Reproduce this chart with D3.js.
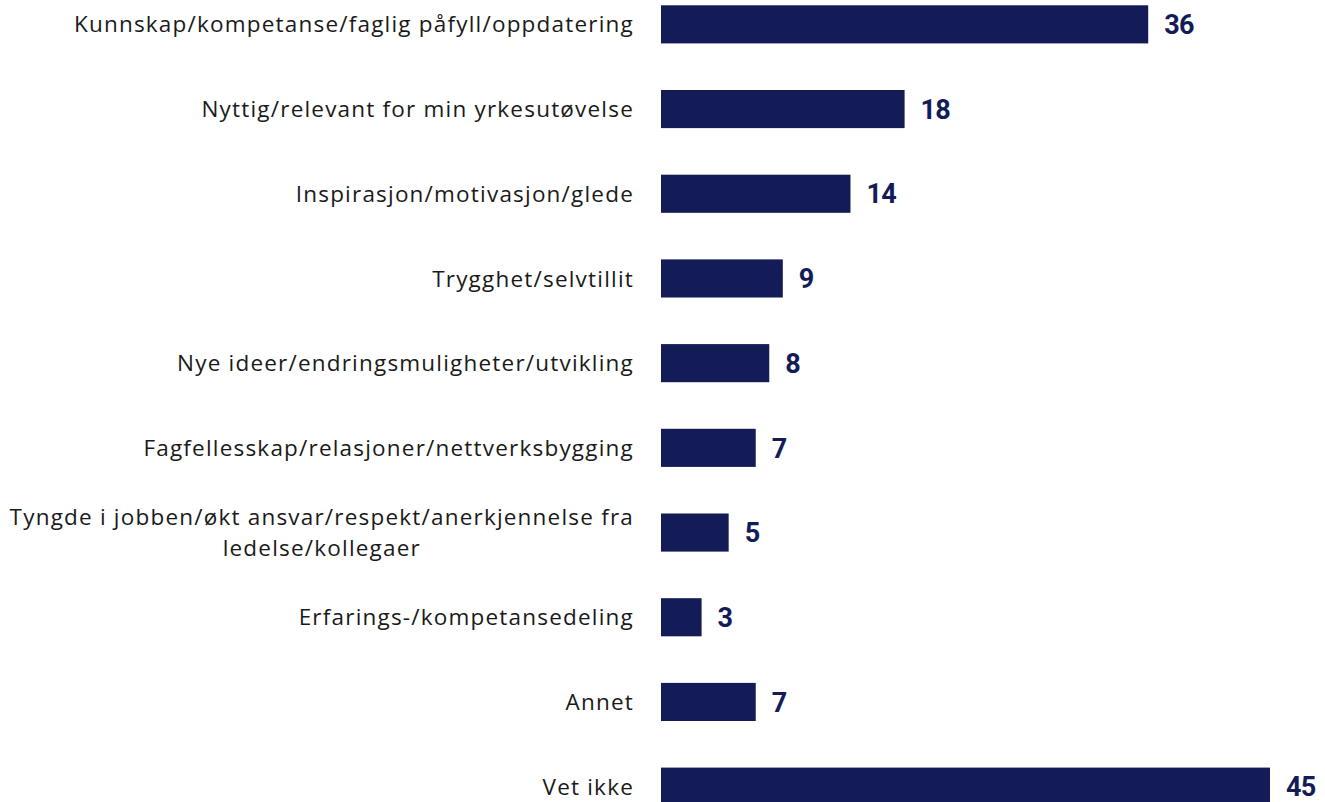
<!DOCTYPE html>
<html>
<head>
<meta charset="utf-8">
<script src="https://cdn.jsdelivr.net/npm/d3@7"></script>
<style>
  html, body { margin: 0; padding: 0; background: #fff; }
  svg { display: block; }
</style>
</head>
<body>
<svg id="chart" width="1325" height="802"></svg>
<script>
const categories = [
  ["Kunnskap/kompetanse/faglig påfyll/oppdatering"],
  ["Nyttig/relevant for min yrkesutøvelse"],
  ["Inspirasjon/motivasjon/glede"],
  ["Trygghet/selvtillit"],
  ["Nye ideer/endringsmuligheter/utvikling"],
  ["Fagfellesskap/relasjoner/nettverksbygging"],
  ["Tyngde i jobben/økt ansvar/respekt/anerkjennelse fra", "ledelse/kollegaer"],
  ["Erfarings-/kompetansedeling"],
  ["Annet"],
  ["Vet ikke"]
];
const values = [36, 18, 14, 9, 8, 7, 5, 3, 7, 45];

const barColor = "#131c57";
const svg = d3.select("#chart");

const x0 = 661;
const x = d3.scaleLinear().domain([0, 45]).range([x0, 1270]);
const y = d3.scaleBand()
  .domain(d3.range(categories.length))
  .range([-18, 829])
  .paddingInner(0.55)
  .paddingOuter(0.275);

const rows = svg.selectAll("g.row")
  .data(values.map((v, i) => ({ v, i, lines: categories[i] })))
  .join("g")
  .attr("class", "row");

rows.append("rect")
  .attr("x", x0)
  .attr("y", d => y(d.i))
  .attr("width", d => x(d.v) - x0)
  .attr("height", y.bandwidth())
  .attr("fill", barColor);

rows.append("text")
  .attr("x", d => x(d.v) + 16)
  .attr("y", d => y(d.i) + y.bandwidth() / 2)
  .attr("dy", "0.36em")
  .attr("font-family", "Roboto, sans-serif")
  .attr("font-weight", 700)
  .attr("font-size", 27)
  .attr("letter-spacing", -0.8)
  .attr("fill", barColor)
  .text(d => d.v);

rows.each(function(d) {
  const g = d3.select(this);
  const n = d.lines.length;
  const lh = 31;
  const cy = y(d.i) + y.bandwidth() / 2;
  const t = g.append("text")
    .attr("font-family", "'Open Sans', sans-serif")
    .attr("font-size", 22.5)
    .attr("letter-spacing", 1.2)
    .attr("fill", "#1a1a1a");
  d.lines.forEach((line, k) => {
    t.append("tspan")
      .attr("x", 634)
      .attr("y", cy + (k - (n - 1) / 2) * lh)
      .attr("dy", "0.36em")
      .attr("text-anchor", "end")
      .text(line);
  });
});

// center the wrapped second line under the first
rows.filter(d => d.lines.length > 1).each(function() {
  const tspans = d3.select(this).selectAll("tspan").nodes();
  const first = tspans[0].getComputedTextLength();
  const center = 634 - first / 2;
  tspans.forEach(ts => {
    d3.select(ts).attr("x", center).attr("text-anchor", "middle");
  });
});
</script>
</body>
</html>
